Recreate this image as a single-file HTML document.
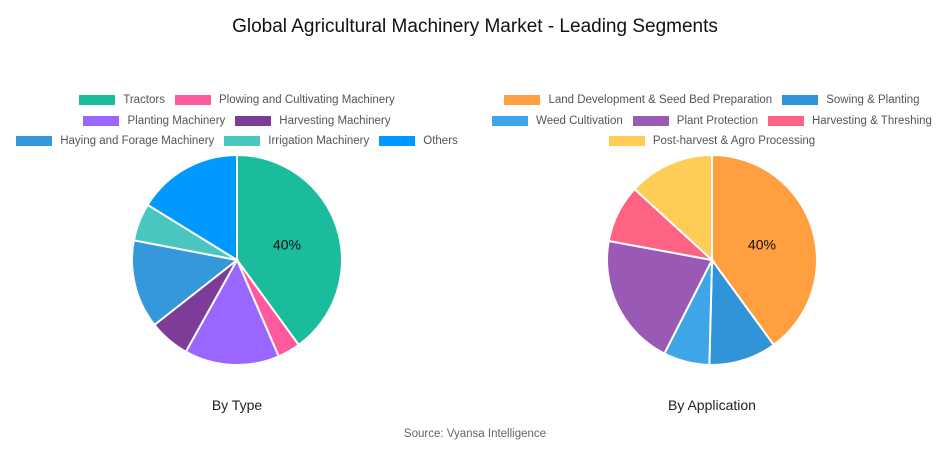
<!DOCTYPE html>
<html><head><meta charset="utf-8">
<style>
body{margin:0;width:950px;height:450px;background:#fff;font-family:"Liberation Sans",sans-serif;position:relative;overflow:hidden}
.t{position:absolute;width:100%;text-align:center}
.leg{position:absolute;display:flex;justify-content:center;gap:10px;font-size:11.5px;color:#555;white-space:nowrap}
.li{display:flex;align-items:center}
.sw{display:inline-block;width:36px;height:10px;margin-right:8px}
</style></head><body>
<div class="t" style="top:16px;font-size:19px;color:#111">Global Agricultural Machinery Market - Leading Segments</div>
<div id="legL"></div><div id="legR"></div>
<svg id="svg" width="950" height="450" style="position:absolute;left:0;top:0"></svg>
<div class="t" style="top:397px;left:-238px;font-size:14px;color:#222">By Type</div>
<div class="t" style="top:397px;left:237px;font-size:14px;color:#222">By Application</div>
<div class="t" style="top:428px;font-size:11.5px;color:#666">Source: Vyansa Intelligence</div>
<script>
const typeLabels=["Tractors","Plowing and Cultivating Machinery","Planting Machinery","Harvesting Machinery","Haying and Forage Machinery","Irrigation Machinery","Others"];
const typeValues=[40,3.5,14.6,6.3,13.6,5.8,16.2];
const typeColors=["#1abc9c","#ff5a9e","#9966ff","#7d3c98","#3498db","#4ac6c1","#0099ff"];
const appLabels=["Land Development & Seed Bed Preparation","Sowing & Planting","Weed Cultivation","Plant Protection","Harvesting & Threshing","Post-harvest & Agro Processing"];
const appValues=[40,10.4,7.1,20.4,8.9,13.2];
const appColors=["#ff9f40","#2f95d8","#3ea6e6","#9b59b6","#ff6384","#ffcd56"];
const NS="http://www.w3.org/2000/svg",svg=document.getElementById('svg');
function pie(vals,cols,labels,cx,cy,r,name){
  const tot=vals.reduce((a,b)=>a+b,0);let a0=0;
  vals.forEach((v,i)=>{
    const a1=a0+v/tot*2*Math.PI;
    const p=document.createElementNS(NS,'path');
    const x0=cx+r*Math.sin(a0),y0=cy-r*Math.cos(a0),x1=cx+r*Math.sin(a1),y1=cy-r*Math.cos(a1);
    p.setAttribute('d',`M${cx},${cy}L${x0},${y0}A${r},${r} 0 ${a1-a0>Math.PI?1:0} 1 ${x1},${y1}Z`);
    p.setAttribute('fill',cols[i]);p.setAttribute('stroke','#fff');p.setAttribute('stroke-width','2');
    
    
    svg.appendChild(p);
    if(i===0){
      const am=(a0+a1)/2,t=document.createElementNS(NS,'text');
      t.setAttribute('x',cx+r*0.5*Math.sin(am));t.setAttribute('y',cy-r*0.48*Math.cos(am)+5);
      t.setAttribute('text-anchor','middle');t.setAttribute('font-size','14');t.setAttribute('fill','#111');
      t.textContent=Math.round(v/tot*100)+'%';
      
      
      svg.appendChild(t);
    }
    a0=a1;
  });
}
pie(typeValues,typeColors,typeLabels,237,260,105,'type-pie');
pie(appValues,appColors,appLabels,712,260,105,'application-pie');
function legend(id,rows,labels,cols,cx){
  const host=document.getElementById(id);
  rows.forEach((row,ri)=>{
    const d=document.createElement('div');d.className='leg';
    d.style.top=(94+ri*20.5)+'px';d.style.left=(cx-300)+'px';d.style.width='600px';
    row.forEach(i=>{
      const it=document.createElement('div');it.className='li';
      
      
      it.innerHTML='<span class="sw" style="background:'+cols[i]+'"></span>'+labels[i].replace(/&/g,'&amp;');
      d.appendChild(it);
    });
    host.appendChild(d);
  });
}
legend('legL',[[0,1],[2,3],[4,5,6]],typeLabels,typeColors,237);
legend('legR',[[0,1],[2,3,4],[5]],appLabels,appColors,712);
</script>
</body></html>
